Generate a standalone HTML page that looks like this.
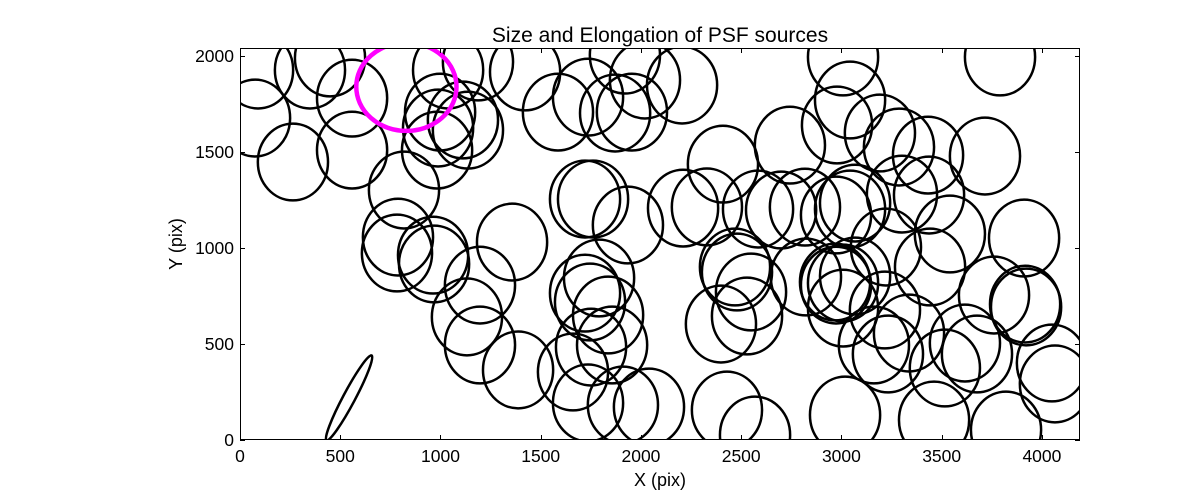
<!DOCTYPE html>
<html><head><meta charset="utf-8"><style>
body{margin:0;background:#fff;}
svg text{font-family:"Liberation Sans",sans-serif;fill:#000;}
</style></head><body>
<svg id="chart" width="1200" height="490" xmlns="http://www.w3.org/2000/svg">
<defs><clipPath id="clip"><rect x="240" y="48" width="840" height="392"/></clipPath></defs>
<rect x="0" y="0" width="1200" height="490" fill="#fff"/>
<text x="660" y="42" font-size="21" text-anchor="middle">Size and Elongation of PSF sources</text>
<g id="marks" clip-path="url(#clip)"></g>
<g id="axes"></g>
<text x="660" y="486" font-size="18" text-anchor="middle">X (pix)</text>
<text x="182" y="244" font-size="18" text-anchor="middle" transform="rotate(-90 182 244)">Y (pix)</text>
</svg>
<script>
const srcX=[90,75,264,349,449,559,559,818,788,783,963,968,998,988,983,1112,1137,1038,1187,1422,1586,1357,1197,1132,1197,1387,
1736,1871,1955,2020,1920,2205,1721,1761,1935,2210,2329,2409,
1721,1791,1746,1836,1856,1751,1661,1736,1910,2040,
2584,2699,2818,2973,3043,2743,2978,2469,2479,2549,2399,2529,2823,2968,2973,3008,3008,3217,3232,2429,2569,3018,
3791,3008,3043,3192,3432,3287,3716,3302,3437,3068,3541,3911,3222,3442,3068,3761,3916,3921,3337,3162,3516,3616,3676,4050,4065,3462,3821];
const srcY=[1927,1677,1448,1927,1990,1781,1510,1302,1057,974,963,917,1708,1625,1510,1667,1614,1927,1969,1917,1708,1031,807,641,495,365,
1786,1703,1708,1875,2005,1849,1255,1255,1120,1208,1214,1437,
765,844,719,651,495,484,354,193,182,172,
1203,1198,1213,1172,1203,1536,1641,901,875,771,604,646,849,823,807,818,687,677,448,156,26,130,
1995,1995,1771,1599,1484,1526,1479,1281,1276,1234,1073,1052,1005,901,854,755,708,693,557,495,375,505,448,401,292,104,52];
const srcA=175, srcB=200;           // semi-axes (data units)
const hiX=[830], hiY=[1840], hiA=[250], hiB=[230]; // highlighted source
const elX=[544], elY=[219], elA=[240], elB=[30], elT=[-62]; // elongated source
const xTicks=[0,500,1000,1500,2000,2500,3000,3500,4000];
const yTicks=[0,500,1000,1500,2000];
const X0=240,X1=1080,Y0=440,Y1=48,XMAX=4190,YMAX=2042;
const sx=v=>X0+v*(X1-X0)/XMAX;
const sy=v=>Y0-v*(Y0-Y1)/YMAX;
const NS="http://www.w3.org/2000/svg";
const marks=document.getElementById('marks');
for(let i=0;i<srcX.length;i++){
  const e=document.createElementNS(NS,'ellipse');
  e.setAttribute('cx',sx(srcX[i]));e.setAttribute('cy',sy(srcY[i]));
  e.setAttribute('rx',sx(srcA)-X0);e.setAttribute('ry',Y0-sy(srcB));
  e.setAttribute('fill','none');e.setAttribute('stroke','#000');e.setAttribute('stroke-width','2.5');
  
  
  marks.appendChild(e);
}
for(let i=0;i<elX.length;i++){
  const e=document.createElementNS(NS,'ellipse');
  const cx=sx(elX[i]),cy=sy(elY[i]);
  e.setAttribute('cx',cx);e.setAttribute('cy',cy);
  e.setAttribute('rx',sx(elA[i])-X0);e.setAttribute('ry',sx(elB[i])-X0);
  e.setAttribute('transform','rotate('+elT[i]+' '+cx+' '+cy+')');
  e.setAttribute('fill','none');e.setAttribute('stroke','#000');e.setAttribute('stroke-width','2.5');
  
  
  marks.appendChild(e);
}
for(let i=0;i<hiX.length;i++){
  const e=document.createElementNS(NS,'ellipse');
  e.setAttribute('cx',sx(hiX[i]));e.setAttribute('cy',sy(hiY[i]));
  e.setAttribute('rx',sx(hiA[i])-X0);e.setAttribute('ry',Y0-sy(hiB[i]));
  e.setAttribute('fill','none');e.setAttribute('stroke','#ff00ff');e.setAttribute('stroke-width','4.5');
  
  
  marks.appendChild(e);
}
const axes=document.getElementById('axes');
function line(x1,y1,x2,y2,name){
  const l=document.createElementNS(NS,'line');
  l.setAttribute('x1',x1);l.setAttribute('y1',y1);l.setAttribute('x2',x2);l.setAttribute('y2',y2);
  l.setAttribute('stroke','#000');l.setAttribute('stroke-width','1');
  
  
  axes.appendChild(l);
}
function text(x,y,s,anchor,name){
  const t=document.createElementNS(NS,'text');
  t.setAttribute('x',x);t.setAttribute('y',y);t.setAttribute('font-size','17.5');t.setAttribute('text-anchor',anchor);
  t.textContent=s;
  
  
  axes.appendChild(t);
}
const fr=document.createElementNS(NS,'rect');
fr.setAttribute('x',240.5);fr.setAttribute('y',48.5);fr.setAttribute('width',839);fr.setAttribute('height',391);
fr.setAttribute('fill','none');fr.setAttribute('stroke','#000');


axes.appendChild(fr);
xTicks.forEach(v=>{
  const x=Math.round(sx(v))+0.5;
  line(x,440,x,435,'x-tick');line(x,48,x,53,'x-tick-top');
  text(sx(v),462,String(v),'middle','x-tick-label');
});
yTicks.forEach(v=>{
  const y=Math.round(sy(v))+0.5;
  line(240,y,245,y,'y-tick');line(1080,y,1075,y,'y-tick-right');
  text(234,sy(v)+6,String(v),'end','y-tick-label');
});
</script>
</body></html>
